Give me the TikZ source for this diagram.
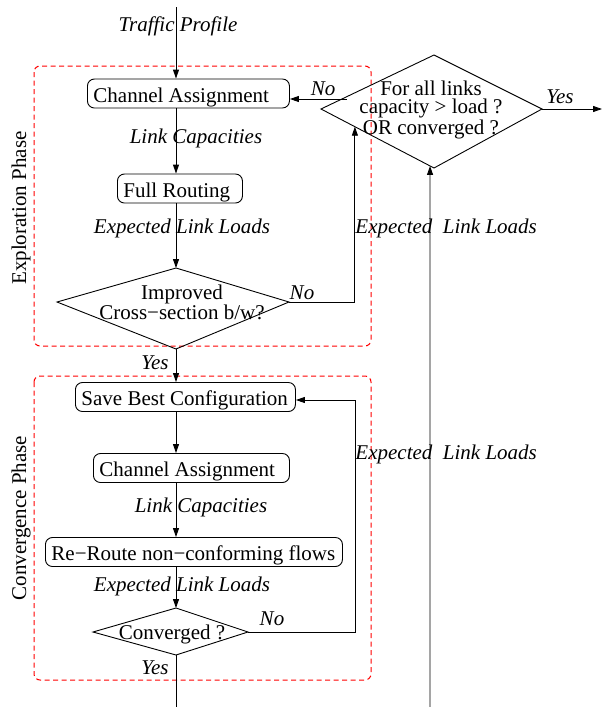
\documentclass[tikz,border=0pt]{standalone}
\usepackage{fontspec}
\setmainfont{Liberation Serif}
\usetikzlibrary{arrows.meta,calc}
\begin{document}
\begin{tikzpicture}[x=1pt,y=-1pt,
  font=\fontsize{21}{18}\selectfont,
  line width=0.9pt,
  arr/.style={-{Triangle[length=9pt,width=6pt]}},
  pbox/.style={draw, rounded corners=7pt, minimum height=29pt, inner xsep=6pt, inner ysep=0pt, anchor=west, text height=18pt, text depth=0.8pt},
  lab/.style={font=\fontsize{21}{18}\selectfont\itshape, inner sep=0pt, anchor=base},
  phase/.style={draw=red, dash pattern=on 5pt off 3.5pt, line width=1pt, rounded corners=6pt},
  dtext/.style={align=center, inner sep=0pt}]
\useasboundingbox (0,0) rectangle (603,707);

% phase frames
\draw[phase] (34,66) rectangle (371,346);
\draw[phase] (34,376) rectangle (371,680);
\node[rotate=90, inner sep=0pt] (ph1) at (21,208) {Exploration Phase};
\node[rotate=90, inner sep=0pt] (ph2) at (21,518) {Convergence Phase};

% boxes
\node[pbox] (ca1) at (87,93.5) {\makebox[190pt][l]{Channel Assignment}};
\node[pbox] (fr) at (117,188.5) {\makebox[113pt][l]{Full Routing}};
\node[pbox] (sbc) at (75,397) {\makebox[208pt][l]{Save Best Configuration}};
\node[pbox] (ca2) at (93,468) {\makebox[184pt][l]{Channel Assignment}};
\node[pbox] (rr) at (45,552) {\makebox[285pt][l]{Re−Route non−conforming flows}};

% diamond 1
\coordinate (d1t) at (176,268);
\coordinate (d1l) at (57,302);
\coordinate (d1r) at (289,302);
\coordinate (d1b) at (176,349);
\draw (d1t) -- (d1r) -- (d1b) -- (d1l) -- cycle;
\node[dtext] (d1) at (182,302) {Improved\\Cross−section b/w?};

% diamond 2
\coordinate (d2t) at (434,55);
\coordinate (d2l) at (321,109);
\coordinate (d2r) at (542,109);
\coordinate (d2b) at (434,168);
\draw (d2t) -- (d2r) -- (d2b) -- (d2l) -- cycle;
\node[dtext] (d2) at (431,110) {For all links\\capacity > load ?\\OR converged ?};

% diamond 3
\coordinate (d3t) at (176,608);
\coordinate (d3l) at (93,632);
\coordinate (d3r) at (248,632);
\coordinate (d3b) at (176,655);
\draw (d3t) -- (d3r) -- (d3b) -- (d3l) -- cycle;
\node[dtext] (d3) at (172,634) {Converged ?};

% helper coordinates
\coordinate (top) at (176,7);
\coordinate (bot) at (176,707);
\coordinate (d2in) at ($(d2l)!0.3!(d2b)$);
\coordinate (d2no) at (347,99);
\coordinate (yesend) at (602,109);
\coordinate (feedbot) at (430,707);
\coordinate (feedin) at ($(d2l)!0.965!(d2b)$);
\coordinate (c3) at (355,400);

% connectors
\draw[arr] (top) -- (top |- ca1.north);
\draw[arr] (ca1.south -| top) -- (fr.north -| top);
\draw[arr] (fr.south -| top) -- (d1t);
\draw[arr] (d1r) -| (d2in);
\draw[arr] (d2no) -- (d2no -| ca1.east);
\draw[arr] (d2r) -- (yesend);
\draw[arr] (feedbot) -- (feedin);
\draw[arr] (d1b) -- (sbc.north -| top);
\draw[arr] (sbc.south -| top) -- (ca2.north -| top);
\draw[arr] (ca2.south -| top) -- (rr.north -| top);
\draw[arr] (rr.south -| top) -- (d3t);
\draw[arr] (d3r) -| (c3) -- (c3 -| sbc.east);
\draw (d3b) -- (bot);

% labels
\node[lab] (l1) at (178,31) {Traffic Profile};
\node[lab] (l2) at (196,143) {Link Capacities};
\node[lab] (l3) at (182,233) {Expected Link Loads};
\node[lab] (l4) at (302,299) {No};
\node[lab, anchor=base west] (l5) at (355,233) {Expected\ \ Link Loads};
\node[lab] (l6) at (323,95) {No};
\node[lab] (l7) at (560,103) {Yes};
\node[lab] (l8) at (155,369) {Yes};
\node[lab, anchor=base west] (l9) at (355,459) {Expected\ \ Link Loads};
\node[lab] (l10) at (201,512) {Link Capacities};
\node[lab] (l11) at (182,591) {Expected Link Loads};
\node[lab] (l12) at (272,625) {No};
\node[lab] (l13) at (155,674) {Yes};
\end{tikzpicture}
\end{document}
